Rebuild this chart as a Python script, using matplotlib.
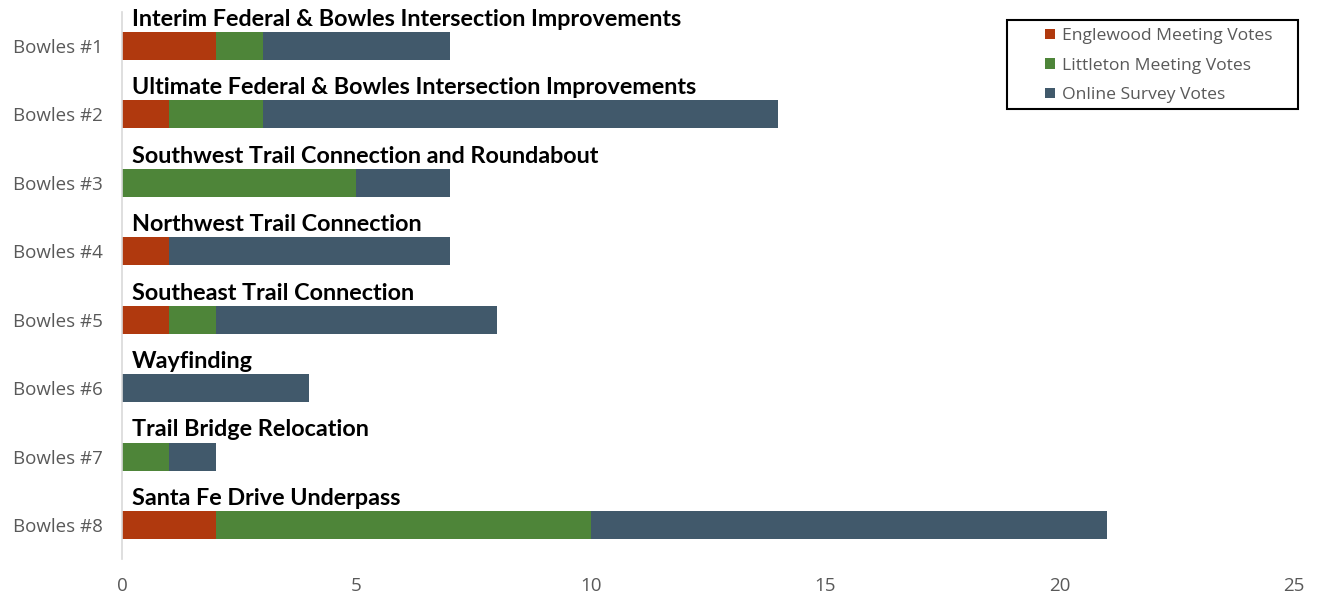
import matplotlib
matplotlib.use("Agg")
import matplotlib.pyplot as plt
from matplotlib.patches import Patch, Rectangle
import numpy as np

# ── 数据 ────────────────────────────────────────
categories = ["Bowles #1", "Bowles #2", "Bowles #3", "Bowles #4",
              "Bowles #5", "Bowles #6", "Bowles #7", "Bowles #8"]
project_names = [
    "Interim Federal & Bowles Intersection Improvements",
    "Ultimate Federal & Bowles Intersection Improvements",
    "Southwest Trail Connection and Roundabout",
    "Northwest Trail Connection",
    "Southeast Trail Connection",
    "Wayfinding",
    "Trail Bridge Relocation",
    "Santa Fe Drive Underpass",
]
englewood_votes = [2, 1, 0, 1, 1, 0, 0, 2]
littleton_votes = [1, 2, 5, 0, 1, 0, 1, 8]
online_votes    = [4, 11, 2, 6, 6, 4, 1, 11]
series_labels = ["Englewood Meeting Votes", "Littleton Meeting Votes", "Online Survey Votes"]
x_ticks = [0, 5, 10, 15, 20, 25]

colors = ["#B0390E", "#4E8539", "#41596B"]
label_color = "#595959"

plt.rcParams['font.family'] = ['Open Sans', 'DejaVu Sans']

W, H = 1317, 595
fig = plt.figure(figsize=(W / 100, H / 100), dpi=100)
ax = fig.add_axes([0.0926, 0.0602, 0.89, 0.92])

y = np.arange(len(categories))
bar_h = 0.41
left = np.zeros(len(categories))
for vals, lab, col in zip([englewood_votes, littleton_votes, online_votes], series_labels, colors):
    ax.barh(y, vals, left=left, height=bar_h, color=col, label=lab)
    left = left + np.array(vals)

# 每个条形上方的项目名称
for yi, name in zip(y, project_names):
    ax.text(0.22, yi - bar_h / 2 - 0.03, name, ha='left', va='bottom',
            fontsize=16.8, fontweight='bold', family=['Lato', 'DejaVu Sans'], color='black')

ax.set_xlim(0, 25)
ax.set_ylim(7.5, -0.5)
ax.set_yticks(y)
ax.set_yticklabels(categories)
ax.set_xticks(x_ticks)
ax.tick_params(axis='both', length=0, labelsize=13.5, labelcolor=label_color)
ax.tick_params(axis='y', pad=14)
ax.tick_params(axis='x', pad=13)

for s in ['top', 'right', 'bottom']:
    ax.spines[s].set_visible(False)
ax.spines['left'].set_color('#D9D9D9')
ax.spines['left'].set_linewidth(1.2)

# 图例：无框图例 + 单独绘制的黑色边框
handles = [Patch(facecolor=c, edgecolor='none') for c in colors]
leg = fig.legend(handles, series_labels, loc='upper left',
                 bbox_to_anchor=(1045 / W, 1 - 28 / H), bbox_transform=fig.transFigure,
                 frameon=False, fontsize=12.6, handlelength=0.55, handleheight=0.55,
                 handletextpad=0.45, labelspacing=0.78, borderpad=0, borderaxespad=0)
for t in leg.get_texts():
    t.set_color(label_color)
fig.patches.append(Rectangle((1007 / W, 1 - 109 / H), 291 / W, 89 / H,
                             transform=fig.transFigure, fill=False,
                             edgecolor='black', linewidth=1.5))

fig.savefig("out.png", dpi=100)
